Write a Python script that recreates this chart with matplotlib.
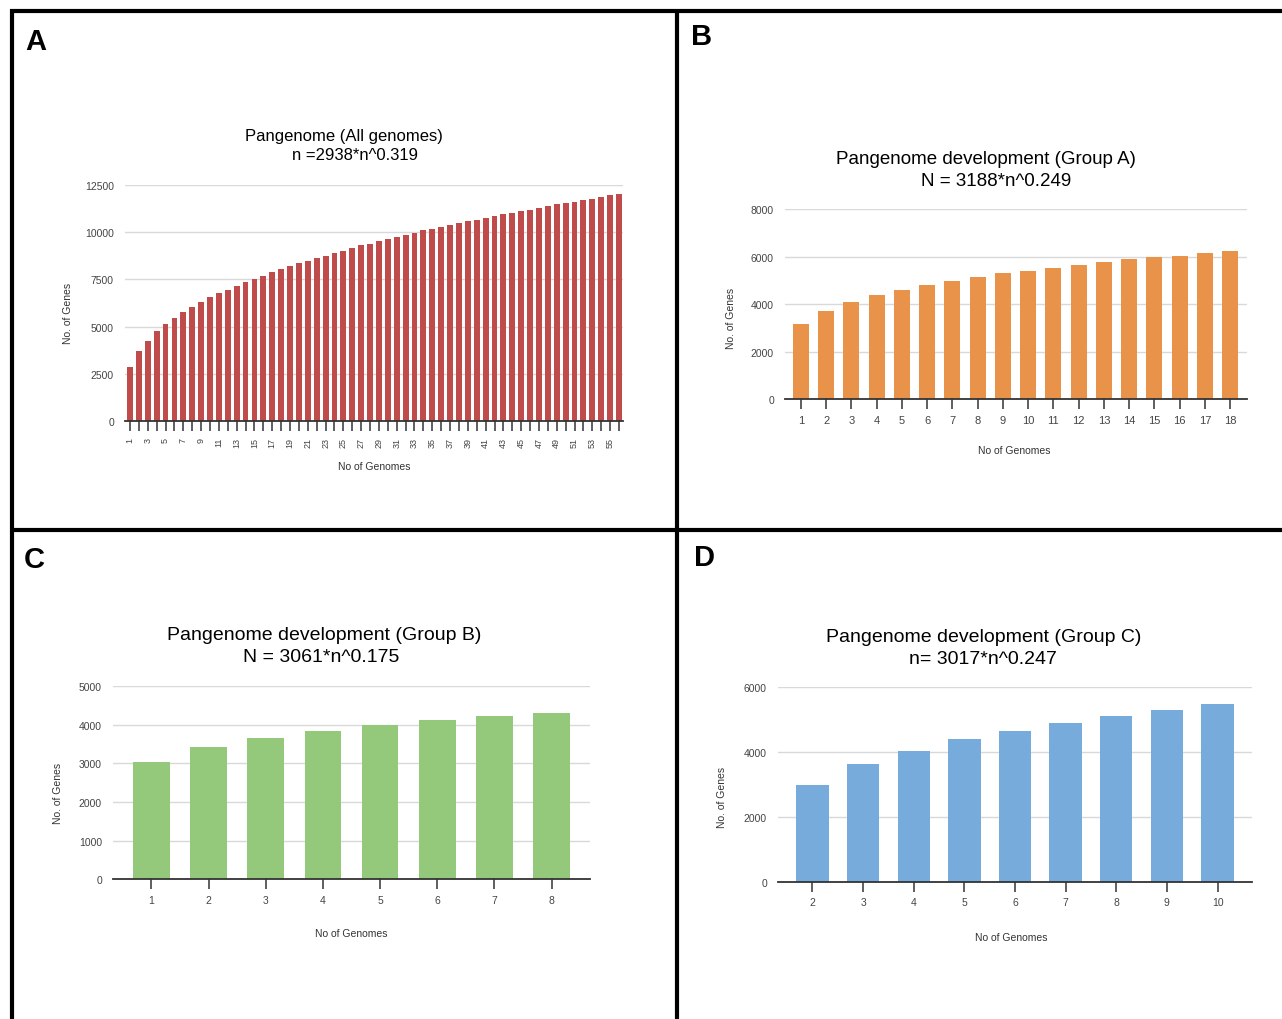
import matplotlib
matplotlib.use("Agg")
import matplotlib.pyplot as plt
from matplotlib.lines import Line2D

plt.rcParams["font.family"] = ["Liberation Sans", "DejaVu Sans"]

# ---- data -------------------------------------------------------------
all_genomes_n = list(range(1, 57))
all_genomes_genes = [
    2890, 3700, 4260, 4750, 5120, 5460, 5760, 6040, 6290, 6570,
    6780, 6950, 7170, 7340, 7540, 7690, 7870, 8060, 8190, 8350,
    8490, 8610, 8750, 8870, 9010, 9150, 9300, 9380, 9530, 9650,
    9740, 9860, 9970, 10090, 10180, 10260, 10350, 10490, 10580, 10650,
    10740, 10830, 10930, 11020, 11110, 11180, 11270, 11360, 11460, 11550,
    11590, 11670, 11760, 11850, 11950, 11990,
]

group_a_n = list(range(1, 19))
group_a_genes = [3160, 3710, 4080, 4380, 4600, 4800, 5000, 5150, 5300,
                 5420, 5540, 5660, 5770, 5900, 5980, 6050, 6180, 6250]

group_b_n = list(range(1, 9))
group_b_genes = [3040, 3420, 3650, 3840, 3980, 4120, 4220, 4310]

group_c_n = list(range(2, 11))
group_c_genes = [3000, 3630, 4040, 4400, 4660, 4890, 5100, 5300, 5470]

W, H = 1282, 1020
fig = plt.figure(figsize=(W / 100, H / 100), dpi=100)
fig.patch.set_facecolor("white")


def fx(px):
    return px / W


def fy(py):
    return 1 - py / H


def panel(x0, x1, y_top, y_zero, cats, vals, color, ymax, ystep,
          xpad, label_every=1, rot=0, tick_fs=8, ytick_fs=8, bar_w=0.64):
    ax = fig.add_axes([fx(x0), fy(y_zero), fx(x1 - x0), (y_zero - y_top) / H])
    pos = list(range(len(cats)))
    ax.bar(pos, vals, width=bar_w, color=color, zorder=3)
    ax.set_xlim(-xpad[0], len(cats) - 1 + xpad[1])
    ax.set_ylim(0, ymax)
    ax.set_yticks(range(0, ymax + 1, ystep))
    ax.yaxis.grid(True, color="#d9d9d9", lw=1.0, zorder=0)
    for s in ("top", "right", "left"):
        ax.spines[s].set_visible(False)
    ax.spines["bottom"].set_color("#333333")
    ax.spines["bottom"].set_linewidth(1.3)
    ax.spines["bottom"].set_zorder(4)
    ax.tick_params(axis="y", length=0, pad=8, labelsize=ytick_fs,
                   labelcolor="#444444")
    ax.tick_params(axis="x", length=7, width=1.1, color="#333333",
                   labelsize=tick_fs, labelcolor="#444444", pad=4)
    ax.set_xticks(pos)
    ax.set_xticklabels([str(c) if i % label_every == 0 else ""
                        for i, c in enumerate(cats)], rotation=rot)
    ax.set_facecolor("white")
    return ax


# Panel A
axA = panel(125, 623, 185.7, 422.3, all_genomes_n, all_genomes_genes,
            "#c04b4b", 12500, 2500, (0.56, 0.45),
            label_every=2, rot=90, tick_fs=6.5, ytick_fs=7.5, bar_w=0.66)
fig.text(fx(344), fy(136), "Pangenome (All genomes)", ha="center",
         va="center", fontsize=12)
fig.text(fx(355), fy(156), "n =2938*n^0.319", ha="center", va="center",
         fontsize=12)
fig.text(fx(68), fy(313), "No. of Genes", rotation=90, ha="center",
         va="center", fontsize=7.5, color="#333333")
fig.text(fx(374), fy(467), "No of Genomes", ha="center", va="center",
         fontsize=7.5, color="#333333")

# Panel B
axB = panel(785, 1247, 210.3, 400.3, group_a_n, group_a_genes,
            "#e8924a", 8000, 2000, (0.63, 0.67),
            tick_fs=8, ytick_fs=7.5)
fig.text(fx(986), fy(160), "Pangenome development (Group A)", ha="center",
         va="center", fontsize=13.5)
fig.text(fx(996), fy(182), "N = 3188*n^0.249", ha="center", va="center",
         fontsize=13.5)
fig.text(fx(731), fy(318), "No. of Genes", rotation=90, ha="center",
         va="center", fontsize=7.5, color="#333333")
fig.text(fx(1014), fy(451), "No of Genomes", ha="center", va="center",
         fontsize=7.5, color="#333333")

# Panel C
axC = panel(113, 590, 687.0, 880.3, group_b_n, group_b_genes,
            "#94c97c", 5000, 1000, (0.67, 0.67),
            tick_fs=7.5, ytick_fs=7.5)
fig.text(fx(324), fy(635), "Pangenome development (Group B)", ha="center",
         va="center", fontsize=14)
fig.text(fx(321), fy(658), "N = 3061*n^0.175", ha="center", va="center",
         fontsize=14)
fig.text(fx(58), fy(793), "No. of Genes", rotation=90, ha="center",
         va="center", fontsize=7.5, color="#333333")
fig.text(fx(351), fy(934), "No of Genomes", ha="center", va="center",
         fontsize=7.5, color="#333333")

# Panel D
axD = panel(778, 1252, 688.0, 883.0, group_c_n, group_c_genes,
            "#77abdb", 6000, 2000, (0.68, 0.68),
            tick_fs=7.5, ytick_fs=7.5)
fig.text(fx(984), fy(637), "Pangenome development (Group C)", ha="center",
         va="center", fontsize=14)
fig.text(fx(983), fy(660), "n= 3017*n^0.247", ha="center", va="center",
         fontsize=14)
fig.text(fx(722), fy(797), "No. of Genes", rotation=90, ha="center",
         va="center", fontsize=7.5, color="#333333")
fig.text(fx(1011), fy(938), "No of Genomes", ha="center", va="center",
         fontsize=7.5, color="#333333")

# Panel letters
for letter, (px, py) in {"A": (36, 42), "B": (702, 37),
                         "C": (34, 560), "D": (704, 558)}.items():
    fig.text(fx(px), fy(py), letter, ha="center", va="center",
             fontsize=21, fontweight="bold")

# Panel frame lines
lw = 3.0
frame = [
    ((10, 1282), (12, 12)),
    ((12, 12), (10, 1020)),
    ((677, 677), (10, 1020)),
    ((10, 1282), (531, 531)),
]
for xs, ys in frame:
    fig.add_artist(Line2D([fx(xs[0]), fx(xs[1])], [fy(ys[0]), fy(ys[1])],
                          transform=fig.transFigure, color="black", lw=lw,
                          solid_capstyle="butt"))

fig.savefig("out.png", dpi=100, facecolor="white")
